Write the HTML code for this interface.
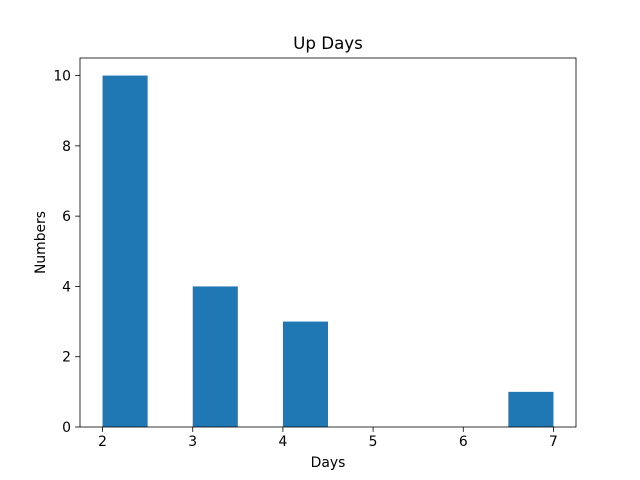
<!DOCTYPE html>
<html><head><meta charset="utf-8"><style>body{margin:0;background:#fff}svg{display:block;font-family:"DejaVu Sans","Liberation Sans",sans-serif}</style></head>
<body>
<svg id="c" width="640" height="480"></svg>
<script>
const binEdges=[2,2.5,3,3.5,4,4.5,5,5.5,6,6.5,7];
const counts=[10,0,4,0,3,0,0,0,0,1];
const xTicks=[2,3,4,5,6,7];
const yTicks=[0,2,4,6,8,10];
const L=80,R=576,T=58,B=427,x0=1.75,x1=7.25,y0=0,y1=10.5;
const sx=v=>L+(v-x0)/(x1-x0)*(R-L);
const sy=v=>B-(v-y0)/(y1-y0)*(B-T);
const svg=document.getElementById('c');
const NS='http://www.w3.org/2000/svg';
function mk(t,a,p){const e=document.createElementNS(NS,t);for(const k in a)e.setAttribute(k,a[k]);(p||svg).appendChild(e);return e;}
const bars=mk('g',{});


counts.forEach((c,i)=>{if(!c)return;const r=mk('rect',{x:sx(binEdges[i]),y:sy(c),width:sx(binEdges[i+1])-sx(binEdges[i]),height:sy(0)-sy(c),fill:'#1f77b4'},bars);

});
const fr=mk('rect',{x:L,y:T,width:R-L,height:B-T,fill:'none',stroke:'#000','stroke-width':0.8});


xTicks.forEach(v=>{mk('line',{x1:sx(v),x2:sx(v),y1:B,y2:B+4.9,stroke:'#000','stroke-width':0.8});
const t=mk('text',{x:sx(v),y:B+19,'text-anchor':'middle','font-size':13.9});t.textContent=v;

});
yTicks.forEach(v=>{mk('line',{x1:L-4.9,x2:L,y1:sy(v),y2:sy(v),stroke:'#000','stroke-width':0.8});
const t=mk('text',{x:L-9,y:sy(v)+5,'text-anchor':'end','font-size':13.9});t.textContent=v;

});
let t=mk('text',{x:(L+R)/2,y:49,'text-anchor':'middle','font-size':16.7});t.textContent='Up Days';


t=mk('text',{x:(L+R)/2,y:467,'text-anchor':'middle','font-size':13.9});t.textContent='Days';


t=mk('text',{x:45,y:(T+B)/2,'text-anchor':'middle','font-size':13.9,transform:'rotate(-90 45 '+(T+B)/2+')'});t.textContent='Numbers';


</script>
</body></html>
